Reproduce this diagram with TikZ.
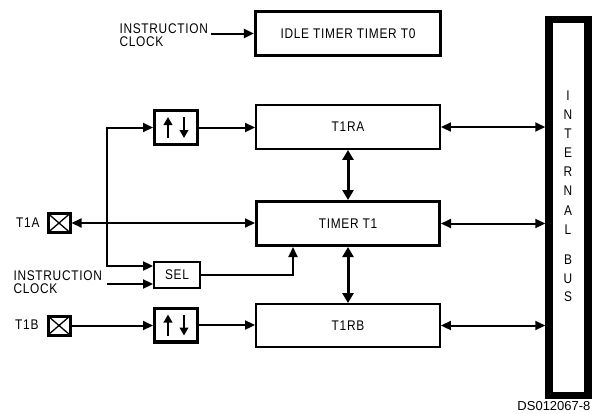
\documentclass[tikz,border=0pt]{standalone}
\usepackage{fontspec}
\setmainfont{Liberation Sans}[FakeStretch=0.85, LetterSpace=5]
\usetikzlibrary{arrows.meta}

\tikzset{
  thinbox/.style={draw, line width=1.9pt, minimum width=184pt, minimum height=44pt},
  thickbox/.style={draw, line width=3.2pt, minimum width=182.8pt, minimum height=43.8pt},
  udbox/.style={draw, line width=3.2pt, minimum width=42.8pt, minimum height=33.8pt},
  pinbox/.style={draw, line width=3pt, minimum width=22pt, minimum height=19pt,
    path picture={\draw[line width=1.3pt] (path picture bounding box.south west) -- (path picture bounding box.north east)
      (path picture bounding box.north west) -- (path picture bounding box.south east);}},
  arr/.style={line width=2pt, -{Triangle[length=10pt,width=9pt]}},
  darr/.style={line width=2pt, {Triangle[length=10pt,width=9pt]}-{Triangle[length=10pt,width=9pt]}},
  vdarr/.style={line width=3pt, {Triangle[length=10pt,width=11pt]}-{Triangle[length=10pt,width=11pt]}},
  glyph/.style={line width=2.2pt, -{Triangle[length=8pt,width=8.5pt]}}
}

\begin{document}
\begin{tikzpicture}[x=1pt,y=-1pt,font=\fontsize{14}{12.5}\selectfont]
\useasboundingbox (0,0) rectangle (593,413);

%% the boxes
    \node[thickbox, minimum width=185pt] (idle) at (348,33.5) {IDLE TIMER TIMER T0};
    \node[thinbox] (t1ra) at (348,127) {T1RA};
    \node[thickbox] (timer) at (348,223.5) {TIMER T1};
    \node[thinbox, minimum height=43pt] (t1rb) at (348,325.5) {T1RB};
    \node[udbox] (ud1) at (176,127.5) {};
    \node[udbox] (ud2) at (176,325) {};
    \node[draw, line width=1.9pt, minimum width=46pt, minimum height=26pt] (sel) at (177,275) {SEL};

%% internal bus, one letter at a time
    \node[draw, line width=7.5pt, minimum width=39pt, minimum height=376pt] (bus) at (568.5,207.5) {};
    \foreach \c/\y in {I/96, N/115, T/134, E/153, R/172, N/191, A/211, L/230, B/260, U/279, S/297}
      \node (bus\y) at (568,\y) {\c};

%% pins and labels
    \node[pinbox] (pina) at (59,223) {};
    \node[pinbox] (pinb) at (59,325.5) {};
    \node[anchor=east] (t1a) at (43,223) {T1A};
    \node[anchor=east] (t1b) at (42,325) {T1B};
    \node[align=left, anchor=west] (iclk1) at (116,35) {INSTRUCTION\\CLOCK};
    \node[align=left, anchor=west] (iclk2) at (10,282) {INSTRUCTION\\CLOCK};
    \node[anchor=east, font=\fontsize{13}{12}\addfontfeatures{FakeStretch=1,LetterSpace=0}] (dsnum) at (594,406) {DS012067-8};

%% the arrows inside the up/down boxes
    \foreach \u in {ud1,ud2} {
      \draw[glyph] ([xshift=-8pt,yshift=-10.5pt]\u.center) -- ([xshift=-8pt,yshift=10.5pt]\u.center);
      \draw[glyph] ([xshift=8pt,yshift=10.5pt]\u.center) -- ([xshift=8pt,yshift=-10.5pt]\u.center);
    }

%% connectors
    \coordinate (jn) at (107,0);
    \coordinate (selin) at ([yshift=9pt]sel.west);
    \coordinate (selclk) at ([yshift=-9pt]sel.west);
    \draw[arr] (idle.west -| iclk1.east) -- (idle.west);
    \draw[darr] (t1ra.east) -- (t1ra.east -| bus.west);
    \draw[darr] (timer.east) -- (timer.east -| bus.west);
    \draw[darr] (t1rb.east) -- (t1rb.east -| bus.west);
    \draw[vdarr] (t1ra.south) -- (timer.north);
    \draw[vdarr] (timer.south) -- (t1rb.north);
    \draw[arr] (ud1.east) -- (ud1.east -| t1ra.west);
    \draw[arr] (ud2.east) -- (ud2.east -| t1rb.west);
    \draw[arr] (pinb.east) -- (pinb.east -| ud2.west);
    \draw[darr] (pina.east) -- (pina.east -| timer.west);
    \draw[darr] (ud1.west) -| (jn |- selin) -- (selin);
    \draw[arr] (jn |- selclk) -- (selclk);
    \draw[arr] (sel.east) -| ([xshift=-55pt]timer.south);

\end{tikzpicture}
\end{document}
